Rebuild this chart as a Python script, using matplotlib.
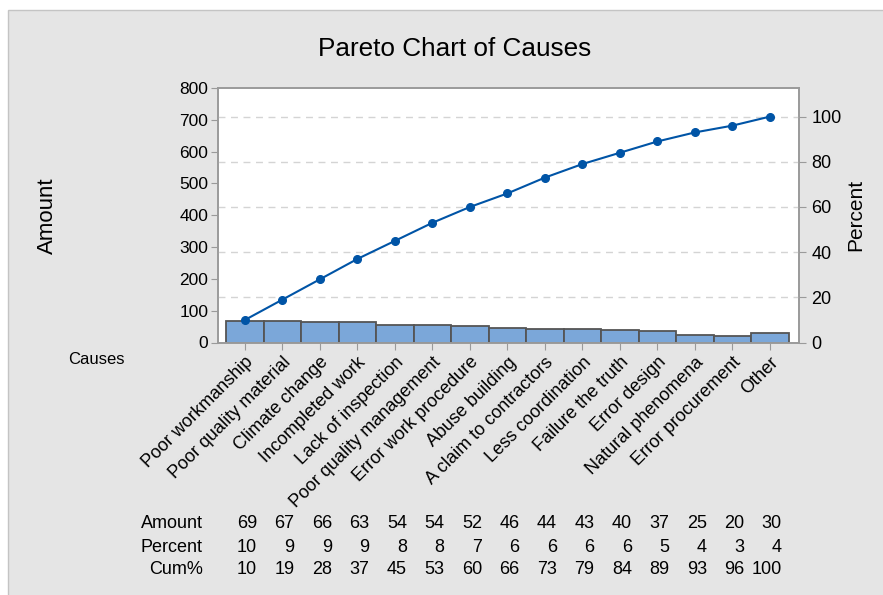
import matplotlib
matplotlib.use("Agg")
import matplotlib.pyplot as plt
import matplotlib.transforms as mtransforms
from matplotlib.patches import Rectangle
import numpy as np

# Données
causes = ["Poor workmanship", "Poor quality material", "Climate change",
          "Incompleted work", "Lack of inspection", "Poor quality management",
          "Error work procedure", "Abuse building", "A claim to contractors",
          "Less coordination", "Failure the truth", "Error design",
          "Natural phenomena", "Error procurement", "Other"]
amount = [69, 67, 66, 63, 54, 54, 52, 46, 44, 43, 40, 37, 25, 20, 30]
percent = [10, 9, 9, 9, 8, 8, 7, 6, 6, 6, 6, 5, 4, 3, 4]
cum_pct = [10, 19, 28, 37, 45, 53, 60, 66, 73, 79, 84, 89, 93, 96, 100]

plt.rcParams['font.family'] = ['Liberation Sans', 'DejaVu Sans']

W, H = 883, 595
fig = plt.figure(figsize=(W / 100, H / 100), dpi=100, facecolor='white')

# Fond gris du panneau
fig.patches.append(Rectangle((8 / W, -0.01), 1.0, 1 - 10 / H + 0.01,
                             transform=fig.transFigure, facecolor='#e5e5e5',
                             edgecolor='#c4c4c4', linewidth=1, zorder=-10))

ax = fig.add_axes([218 / W, 1 - 342.5 / H, (799 - 218) / W, (342.5 - 88) / H])
ax.set_facecolor('white')

total = sum(amount)
x = np.arange(len(causes))
bar_color = '#7ba7d9'
line_color = '#0054a6'
spine_color = '#9a9a9a'

ax.bar(x, amount, width=1.0, color=bar_color, edgecolor='#555555', linewidth=1.3, zorder=2)
ax.set_xlim(-0.72, len(causes) - 1 + 0.78)
ax.set_ylim(0, 800)
ax.set_yticks(np.arange(0, 801, 100))
ax.set_xticks(x)
ax.set_xticklabels(causes, rotation=45, ha='right', va='top', rotation_mode='anchor', fontsize=13)
ax.tick_params(axis='x', length=5, color=spine_color, pad=3)
ax.tick_params(axis='y', length=5, color=spine_color, labelsize=12.5, pad=2)
ax.set_ylabel('Amount', fontsize=16)
ax.yaxis.set_label_coords(-(218 - 58) / (799 - 218), 0.5)

# Axe des pourcentages
ax2 = ax.twinx()
ax2.set_ylim(0, 800 / total * 100)
ax2.set_yticks(np.arange(0, 101, 20))
ax2.tick_params(axis='y', length=5, color=spine_color, labelsize=13, pad=4)
for y in range(20, 101, 20):
    ax2.axhline(y, color='#d4d4d4', linestyle=(0, (5, 4)), linewidth=1, zorder=1)
ax2.plot(x, cum_pct, color=line_color, marker='o', markersize=5.5, linewidth=1.5, zorder=3)
ax2.set_ylabel('Percent', fontsize=15)
ax2.yaxis.set_label_coords(1.0 + (846 - 799) / (799 - 218), 0.5)

for a in (ax, ax2):
    for s in a.spines.values():
        s.set_color(spine_color)
        s.set_linewidth(1.2)

# Titre
fig.text(455 / W, 1 - 49 / H, 'Pareto Chart of Causes', ha='center', va='center', fontsize=18.8)
fig.text(96 / W, 1 - 360 / H, 'Causes', ha='center', va='center', fontsize=12)

# Tableau sous le graphique
trans = mtransforms.blended_transform_factory(ax.transData, fig.transFigure)
rows = [('Amount', amount, 523), ('Percent', percent, 547), ('Cum%', cum_pct, 570)]
for label, vals, ypix in rows:
    fig.text(203 / W, 1 - ypix / H, label, ha='right', va='center', fontsize=13)
    for i, v in enumerate(vals):
        fig.text(i + 0.32, 1 - ypix / H, str(v), transform=trans, ha='right', va='center', fontsize=13)

plt.savefig('out.png', dpi=100, facecolor=fig.get_facecolor())
